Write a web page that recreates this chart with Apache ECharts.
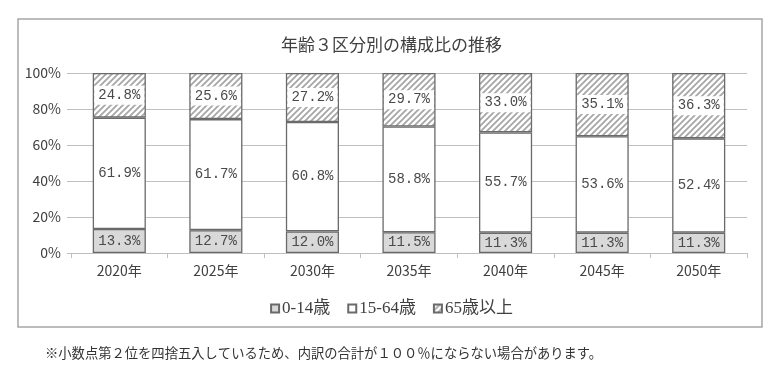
<!DOCTYPE html>
<html><head><meta charset="utf-8">
<script src="https://cdn.jsdelivr.net/npm/echarts@6/dist/echarts.min.js"></script>
<style>html,body{margin:0;padding:0;background:#fff}#c{width:783px;height:369px}</style>
</head><body><div id="c"></div>
<script>
const categories = ['2020年','2025年','2030年','2035年','2040年','2045年','2050年'];
const seriesNames = ['0-14歳','15-64歳','65歳以上'];
const young = [13.3, 12.7, 12.0, 11.5, 11.3, 11.3, 11.3];
const working = [61.9, 61.7, 60.8, 58.8, 55.7, 53.6, 52.4];
const elderly = [24.8, 25.6, 27.2, 29.7, 33.0, 35.1, 36.3];
const yTicks = [0, 20, 40, 60, 80, 100];
const titleText = '年齢３区分別の構成比の推移';
const noteText = '※小数点第２位を四捨五入しているため、内訳の合計が１００％にならない場合があります。';

// hatch pattern
const pc = document.createElement('canvas');
pc.width = 6; pc.height = 6;
const g = pc.getContext('2d');
g.fillStyle = '#ffffff'; g.fillRect(0,0,6,6);
g.strokeStyle = '#a6a6a6'; g.lineWidth = 1.8;
g.beginPath();
g.moveTo(-1,7); g.lineTo(7,-1);
g.moveTo(-4,4); g.lineTo(4,-4);
g.moveTo(2,10); g.lineTo(10,2);
g.stroke();
const hatch = {image: pc, repeat: 'repeat'};

const labelFont = {fontFamily: '"Liberation Mono", monospace', fontSize: 14, color: '#4a4a4a'};
const border = {borderColor: '#6a6a6a', borderWidth: 1.3};
const chart = echarts.init(document.getElementById('c'));
chart.setOption({
  animation: false,
  backgroundColor: '#fff',
  title: {text: titleText, left: 'center', top: 31,
    textStyle: {fontFamily: '"Noto Sans CJK JP"', fontSize: 17, fontWeight: 'normal', color: '#404040'}},
  graphic: [
    {type: 'rect', shape: {x: 18, y: 19, width: 744, height: 308}, style: {fill: 'none', stroke: '#a6a6a6', lineWidth: 1.5}, z: -1},
    {type: 'text', left: 45, top: 346, style: {text: noteText, font: '13.3px "Noto Sans CJK JP"', fill: '#333'}}
  ],
  legend: {bottom: 47, left: 'center', itemWidth: 8, itemHeight: 8, itemGap: 17,
    icon: 'rect',
    textStyle: {fontFamily: '"Liberation Serif", "Noto Sans CJK JP"', fontSize: 17, color: '#404040', padding: [0,0,0,-2]},
    data: seriesNames},
  grid: {left: 71, right: 36, top: 73, bottom: 116},
  xAxis: {type: 'category', data: categories,
    axisLine: {lineStyle: {color: '#bfbfbf', width: 1}},
    axisTick: {show: true, length: 5, lineStyle: {color: '#bfbfbf'}},
    axisLabel: {fontFamily: '"Noto Sans CJK JP"', fontSize: 14, color: '#404040', margin: 11}},
  yAxis: {type: 'value', min: yTicks[0], max: yTicks[yTicks.length-1], interval: 20,
    axisLine: {show: false},
    axisTick: {show: true, length: 4, lineStyle: {color: '#bfbfbf'}},
    splitLine: {lineStyle: {color: '#c0c0c0', width: 1}},
    axisLabel: {formatter: '{value}%', fontFamily: '"Noto Sans CJK JP"', fontSize: 14, color: '#404040', margin: 10}},
  series: [
    {name: seriesNames[0], type: 'bar', stack: 't', barWidth: '55%', data: young,
      itemStyle: Object.assign({color: '#d9d9d9'}, border),
      label: Object.assign({show: true, position: 'inside', formatter: p => p.value.toFixed(1) + '%'}, labelFont)},
    {name: seriesNames[1], type: 'bar', stack: 't', data: working,
      itemStyle: Object.assign({color: '#ffffff'}, border),
      label: Object.assign({show: true, position: 'inside', formatter: p => p.value.toFixed(1) + '%'}, labelFont)},
    {name: seriesNames[2], type: 'bar', stack: 't', data: elderly,
      itemStyle: Object.assign({color: hatch}, border),
      label: Object.assign({show: true, position: 'inside', backgroundColor: '#ffffff', padding: [3, 4, 2, 4], formatter: p => p.value.toFixed(1) + '%'}, labelFont)}
  ]
});
</script></body></html>
